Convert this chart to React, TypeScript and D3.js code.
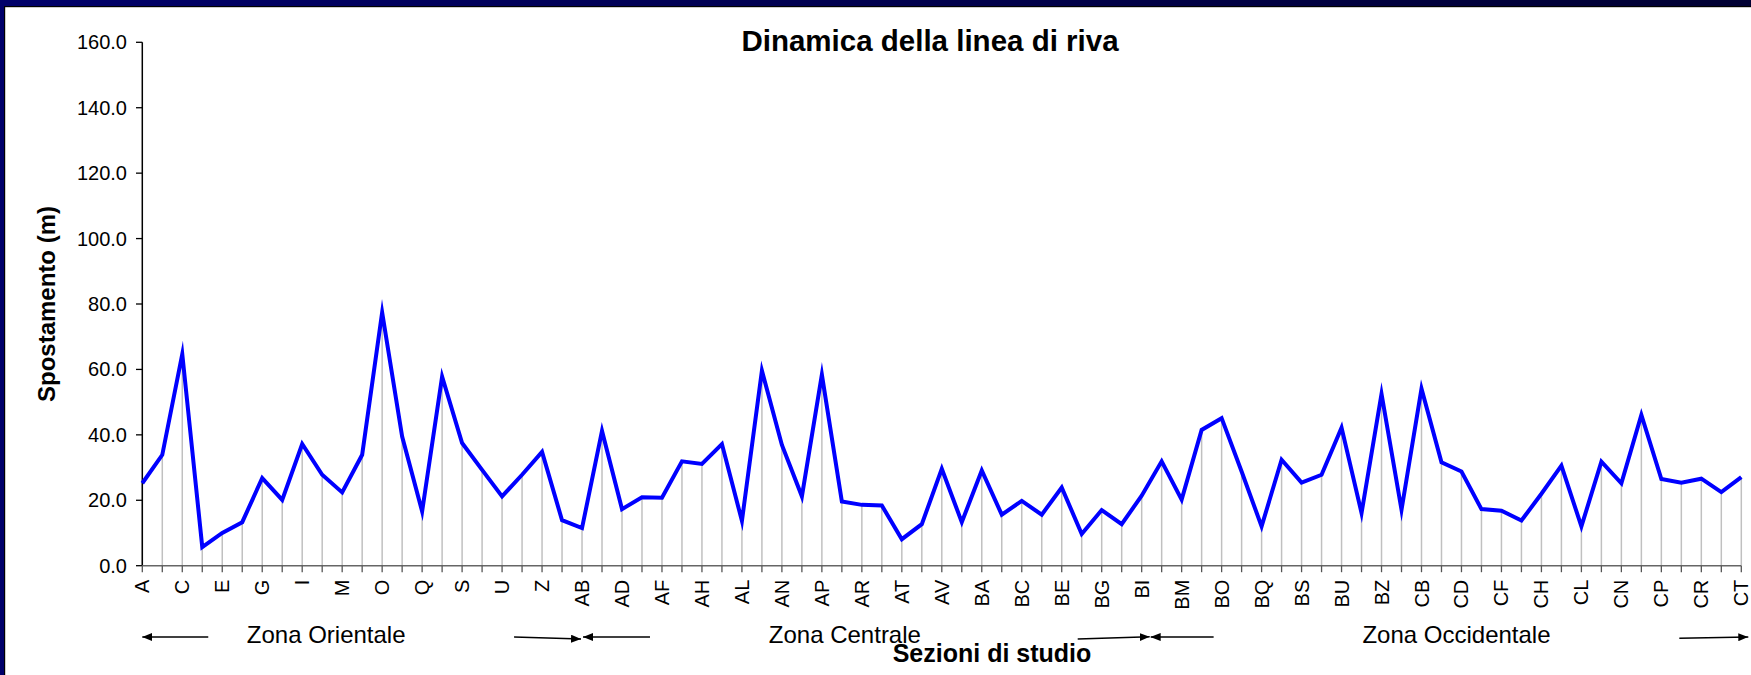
import React, { useEffect } from "react";
import * as d3 from "d3";

const categories = [
  "A","B","C","D","E","F","G","H","I","L","M","N","O","P","Q","R","S","T","U","V","Z",
  "AA","AB","AC","AD","AE","AF","AG","AH","AI","AL","AM","AN","AO","AP","AQ","AR","AS","AT","AU","AV","AZ",
  "BA","BB","BC","BD","BE","BF","BG","BH","BI","BL","BM","BN","BO","BP","BQ","BR","BS","BT","BU","BV","BZ",
  "CA","CB","CC","CD","CE","CF","CG","CH","CI","CL","CM","CN","CO","CP","CQ","CR","CS","CT",
];

const spostamento = [
  25.2, 33.9, 64.7, 5.7, 10.0, 13.3, 26.8, 20.1, 37.2, 27.8, 22.4, 33.9, 77.4, 39.5, 16.6, 57.8, 37.5, 29.3, 21.2, 27.8, 34.8,
  13.9, 11.5, 41.2, 17.3, 20.9, 20.8, 31.9, 31.1, 37.2, 13.7, 59.6, 36.9, 21.2, 58.4, 19.6, 18.6, 18.4, 8.1, 12.7, 29.6, 13.3,
  29.1, 15.6, 19.8, 15.6, 23.9, 9.7, 17.0, 12.7, 21.4, 31.9, 20.2, 41.5, 45.1, 28.8, 12.0, 32.4, 25.4, 27.8, 42.2, 16.1, 52.5,
  17.1, 54.1, 31.6, 28.8, 17.3, 16.8, 13.8, 22.0, 30.6, 12.0, 31.8, 25.2, 46.1, 26.5, 25.4, 26.6, 22.5, 27.1,
];

const xTickLabels = categories.filter((_, i) => i % 2 === 0);
const yTicks = [0, 20, 40, 60, 80, 100, 120, 140, 160];

const zoneNames = ["Zona Orientale", "Zona Centrale", "Zona Occidentale"];
const zoneCenters = [9.2, 35.15, 65.75];
// arrows: [tailIndex, tailDy, tipIndex, tipDy]
const zoneArrows: [number, number, number, number][] = [
  [3.3, 0, 0, 0],
  [18.6, 0, 21.95, 2],
  [25.4, 0, 22.05, 0],
  [46.8, 2, 50.4, -0.3],
  [53.6, 0, 50.45, 0],
  [76.9, 1.3, 80.35, 0],
];

const title = "Dinamica della linea di riva";
const yTitle = "Spostamento (m)";
const xTitle = "Sezioni di studio";

const W = 1751;
const H = 675;
const FONT = "'Liberation Sans', Arial, Helvetica, sans-serif";

export default function App() {
  useEffect(() => {
    document.body.style.margin = "0";
  }, []);

  const x = d3.scalePoint<string>().domain(categories).range([142.3, 1741.3]);
  const y = d3.scaleLinear().domain([0, 160]).range([565.7, 42.3]);
  const step = x.step();
  const xf = (i: number) => (x(categories[0]) as number) + i * step;

  const line = d3
    .line<number>()
    .x((_, i) => x(categories[i]) as number)
    .y((d) => y(d));

  const yFmt = d3.format(".1f");
  const arrowY = 637;

  return (
    <div style={{ position: "absolute", left: 0, top: 0 }}>
      <svg width={W} height={H} style={{ display: "block", background: "#fff" }}>
        <defs>
          <linearGradient id="topbar" x1="0" x2="1" y1="0" y2="0">
            <stop offset="0" stopColor="#00006a" />
            <stop offset="1" stopColor="#000033" />
          </linearGradient>
          <marker
            id="ah"
            markerUnits="userSpaceOnUse"
            markerWidth="10"
            markerHeight="8"
            refX="10"
            refY="4"
            orient="auto"
          >
            <path d="M0,0 L10,4 L0,8 Z" fill="#000" />
          </marker>
        </defs>

        {/* slide border */}
        <rect x={0} y={0} width={W} height={6} fill="url(#topbar)" />
        <rect x={0} y={6} width={W} height={1.2} fill="#000" />
        <rect x={0} y={0} width={4} height={H} fill="#00006a" />
        <rect x={4} y={6} width={1.2} height={H} fill="#000" />

        {/* title */}
        <text x={930} y={51} textAnchor="middle" fontFamily={FONT} fontSize={29.5} fontWeight="bold" fill="#000">
          {title}
        </text>

        {/* drop lines */}
        {spostamento.map((v, i) => (
          <line
            key={"dl" + i}
            x1={x(categories[i])}
            x2={x(categories[i])}
            y1={y(v)}
            y2={y(0)}
            stroke="#c0c0c0"
            strokeWidth={1.5}
          />
        ))}

        {/* y axis */}
        <line x1={142.3} x2={142.3} y1={y(160)} y2={y(0)} stroke="#000" strokeWidth={1.5} />
        {yTicks.map((t) => (
          <g key={"yt" + t}>
            <line x1={136} x2={142.3} y1={y(t)} y2={y(t)} stroke="#000" strokeWidth={1.3} />
            <text
              x={127}
              y={y(t)}
              dy="0.35em"
              textAnchor="end"
              fontFamily={FONT}
              fontSize={20}
              fill="#000"
            >
              {yFmt(t)}
            </text>
          </g>
        ))}

        {/* x axis */}
        <line x1={x(categories[0])} x2={x(categories[categories.length - 1])} y1={y(0)} y2={y(0)} stroke="#666" strokeWidth={1.5} />
        {categories.map((c) => (
          <line key={"xt" + c} x1={x(c)} x2={x(c)} y1={y(0)} y2={y(0) + 6.5} stroke="#555" strokeWidth={1.3} />
        ))}
        {xTickLabels.map((c) => (
          <text
            key={"xl" + c}
            transform={`translate(${x(c)},${y(0) + 14}) rotate(-90)`}
            dy="0.35em"
            textAnchor="end"
            fontFamily={FONT}
            fontSize={20}
            fill="#000"
          >
            {c}
          </text>
        ))}

        {/* data line */}
        <path d={line(spostamento) || ""} fill="none" stroke="#0000ff" strokeWidth={4} strokeLinejoin="miter" strokeMiterlimit={10} />

        {/* y title */}
        <text
          transform={`translate(55,${(y(0) + y(160)) / 2}) rotate(-90)`}
          textAnchor="middle"
          fontFamily={FONT}
          fontSize={24}
          fontWeight="bold"
          fill="#000"
        >
          {yTitle}
        </text>

        {/* zone labels */}
        {zoneNames.map((z, i) => (
          <text
            key={"z" + i}
            x={xf(zoneCenters[i])}
            y={643}
            textAnchor="middle"
            fontFamily={FONT}
            fontSize={24}
            fill="#000"
          >
            {z}
          </text>
        ))}

        {/* zone arrows */}
        {zoneArrows.map(([t, tdy, h, hdy], i) => (
          <line
            key={"ar" + i}
            x1={xf(t)}
            y1={arrowY + tdy}
            x2={xf(h)}
            y2={arrowY + hdy}
            stroke="#000"
            strokeWidth={1.6}
            markerEnd="url(#ah)"
          />
        ))}

        {/* x title */}
        <text x={992} y={662} textAnchor="middle" fontFamily={FONT} fontSize={25} fontWeight="bold" fill="#000">
          {xTitle}
        </text>
      </svg>
    </div>
  );
}
